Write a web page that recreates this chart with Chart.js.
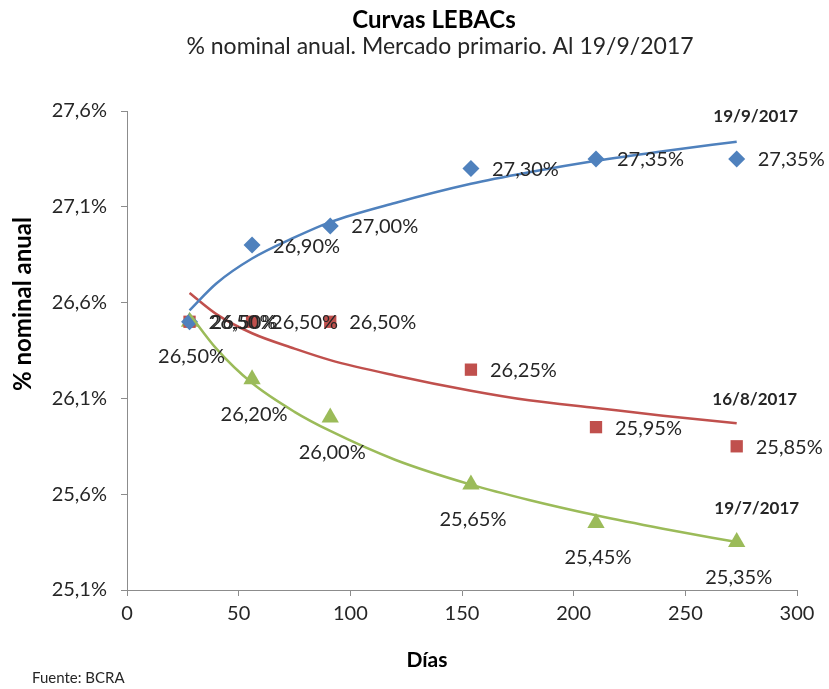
<!DOCTYPE html>
<html>
<head>
<meta charset="utf-8">
<script src="https://cdn.jsdelivr.net/npm/chart.js@4/dist/chart.umd.min.js"></script>
<style>
  html, body { margin: 0; padding: 0; background: #fff; }
  #wrap { width: 829px; height: 689px; position: relative; }
</style>
</head>
<body>
<div id="wrap"><canvas id="chart" width="829" height="689"></canvas></div>
<script>
// days to maturity of each LEBAC
const dias = [28, 56, 91, 154, 210, 273];

// rates (% nominal anual) for each auction date
const tasas19Sep = [26.50, 26.90, 27.00, 27.30, 27.35, 27.35];
const tasas16Ago = [26.50, 26.50, 26.50, 26.25, 25.95, 25.85];
const tasas19Jul = [26.50, 26.20, 26.00, 25.65, 25.45, 25.35];

// trend curves
const diasTendencia = [28, 40, 56, 75, 91, 120, 154, 180, 210, 240, 273];
const tend19Sep = [26.56, 26.70, 26.83, 26.94, 27.02, 27.12, 27.22, 27.28, 27.34, 27.39, 27.44];
const tend16Ago = [26.65, 26.54, 26.44, 26.36, 26.30, 26.22, 26.14, 26.09, 26.05, 26.01, 25.97];
const tend19Jul = [26.54, 26.36, 26.18, 26.03, 25.93, 25.78, 25.65, 25.57, 25.49, 25.42, 25.35];

const nombresSeries = ['19/9/2017', '16/8/2017', '19/7/2017'];
const yTicks = [25.1, 25.6, 26.1, 26.6, 27.1, 27.6];
const xTicks = [0, 50, 100, 150, 200, 250, 300];

const FONT = 'Lato, "Open Sans", sans-serif';
const AXIS_COLOR = '#8c8c8c';
const TEXT_COLOR = '#262626';

function toPoints(xs, ys) {
    return xs.map((x, i) => ({ x: x, y: ys[i] }));
}

function fmtPct(v, dec) {
    return v.toFixed(dec).replace('.', ',') + '%';
}

// label placement per marker series: to the right, or centered below
const labelStyle = [
    { mode: 'right', dx: 21, dy: 1 },
    { mode: 'right', dx: 19, dy: 1 },
    { mode: 'below', dx: 2, dy: 35 },
];
// series name placement, relative to the end of its trend curve
const nameStyle = [
    { dx: 19, dy: -25 },
    { dx: 18, dy: -24 },
    { dx: 20, dy: -34 },
];

const textPlugin = {
    id: 'textPlugin',
    afterDatasetsDraw(chart) {
        const ctx = chart.ctx;
        ctx.save();
        // data labels on the marker series (datasets 3,4,5)
        for (let s = 0; s < 3; s++) {
            const meta = chart.getDatasetMeta(s + 3);
            const st = labelStyle[s];
            ctx.font = '20px ' + FONT;
            ctx.fillStyle = TEXT_COLOR;
            ctx.textBaseline = 'middle';
            ctx.textAlign = st.mode === 'right' ? 'left' : 'center';
            meta.data.forEach((pt, i) => {
                const v = chart.data.datasets[s + 3].data[i].y;
                ctx.fillText(fmtPct(v, 2), pt.x + st.dx, pt.y + st.dy);
            });
        }
        // series names next to the trend curve ends
        ctx.font = 'bold 17px ' + FONT;
        ctx.textAlign = 'center';
        for (let s = 0; s < 3; s++) {
            const meta = chart.getDatasetMeta(s);
            const last = meta.data[meta.data.length - 1];
            ctx.fillText(nombresSeries[s], last.x + nameStyle[s].dx, last.y + nameStyle[s].dy);
        }
        ctx.restore();
    },
    afterDraw(chart) {
        const ctx = chart.ctx;
        ctx.save();
        ctx.fillStyle = '#000';
        ctx.textAlign = 'center';
        ctx.textBaseline = 'middle';
        ctx.font = 'bold 24px ' + FONT;
        ctx.fillText('Curvas LEBACs', 434, 20);
        ctx.fillStyle = TEXT_COLOR;
        ctx.font = '23px ' + FONT;
        ctx.fillText('% nominal anual. Mercado primario. Al 19/9/2017', 440, 47);
        ctx.fillStyle = '#000';
        ctx.font = 'bold 21px ' + FONT;
        ctx.fillText('Días', 427, 660);
        ctx.save();
        ctx.translate(23, 304);
        ctx.rotate(-Math.PI / 2);
        ctx.font = 'bold 24px ' + FONT;
        ctx.fillText('% nominal anual', 0, 0);
        ctx.restore();
        ctx.textAlign = 'left';
        ctx.fillStyle = TEXT_COLOR;
        ctx.font = '15px ' + FONT;
        ctx.fillText('Fuente: BCRA', 32, 678);
        ctx.restore();
    }
};

const colors = ['#4f81bd', '#c0504d', '#9bbb59'];

function trendDataset(ys, color) {
    return {
        type: 'line',
        data: toPoints(diasTendencia, ys),
        borderColor: color,
        borderWidth: 2.5,
        pointRadius: 0,
        fill: false,
        showLine: true,
        cubicInterpolationMode: 'monotone',
    };
}

function markerDataset(ys, color, style, radius) {
    return {
        type: 'scatter',
        data: toPoints(dias, ys),
        backgroundColor: color,
        borderColor: color,
        borderWidth: 0,
        pointStyle: style,
        pointRadius: radius,
        pointHoverRadius: radius,
        showLine: false,
    };
}

new Chart(document.getElementById('chart'), {
    type: 'scatter',
    data: {
        datasets: [
            trendDataset(tend19Sep, colors[0]),
            trendDataset(tend16Ago, colors[1]),
            trendDataset(tend19Jul, colors[2]),
            markerDataset(tasas19Sep, colors[0], 'rectRot', 8.5),
            markerDataset(tasas16Ago, colors[1], 'rect', 8.7),
            markerDataset(tasas19Jul, colors[2], 'triangle', 10),
        ]
    },
    options: {
        responsive: false,
        animation: false,
        layout: { padding: { top: 111, right: 32, bottom: 39, left: 0 } },
        plugins: {
            legend: { display: false },
            tooltip: { enabled: false },
            title: { display: false },
        },
        scales: {
            x: {
                type: 'linear',
                min: 0,
                max: 300,
                afterBuildTicks: (scale) => { scale.ticks = xTicks.map(v => ({ value: v })); },
                afterFit: (scale) => { scale.height = 60; },
                grid: { drawOnChartArea: false, drawTicks: true, tickLength: 6, color: AXIS_COLOR },
                border: { display: true, color: AXIS_COLOR, width: 1 },
                ticks: {
                    padding: 6,
                    color: TEXT_COLOR,
                    font: { family: FONT, size: 20 },
                    maxRotation: 0,
                    callback: (v) => String(v),
                },
            },
            y: {
                type: 'linear',
                min: 25.1,
                max: 27.6,
                afterBuildTicks: (scale) => { scale.ticks = yTicks.map(v => ({ value: v })); },
                afterFit: (scale) => { scale.width = 127; },
                grid: { drawOnChartArea: false, drawTicks: true, tickLength: 6, color: AXIS_COLOR },
                border: { display: true, color: AXIS_COLOR, width: 1 },
                ticks: {
                    padding: 14,
                    color: TEXT_COLOR,
                    font: { family: FONT, size: 20 },
                    callback: (v) => fmtPct(v, 1),
                },
            },
        },
    },
    plugins: [textPlugin],
});
</script>
</body>
</html>
